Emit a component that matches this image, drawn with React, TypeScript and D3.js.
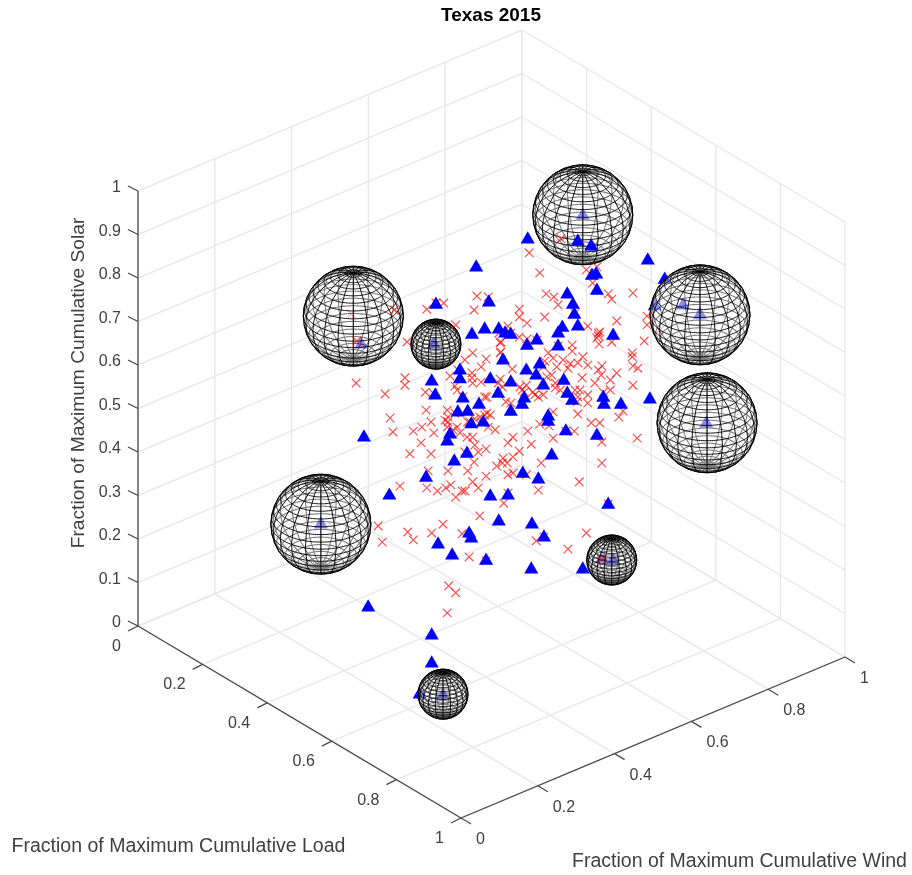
import React from "react";
import * as d3 from "d3";

// Chart text
const titleText = "Texas 2015";
const loadLabel = "Fraction of Maximum Cumulative Load";
const windLabel = "Fraction of Maximum Cumulative Wind";
const solarLabel = "Fraction of Maximum Cumulative Solar";

// Tick values
const floorTicks = [0, 0.2, 0.4, 0.6, 0.8, 1];
const solarTicks = [0, 0.1, 0.2, 0.3, 0.4, 0.5, 0.6, 0.7, 0.8, 0.9, 1];

// A single 3-D view hides the depth of each point, so marks are read as
// [position across the floor, left corner to right corner (0..1), height in solar-axis units].
const crossPoints = [
[.599,.886],[.554,.854],[.569,.808],[.635,.815],[.650,.822],[.644,.785],[.666,.760],[.671,.748],[.701,.762],[.578,.760],
[.589,.753],[.595,.735],[.480,.755],[.496,.753],[.476,.723],[.409,.725],[.433,.739],[.422,.739],[.450,.689],[.540,.725],
[.540,.707],[.576,.707],[.551,.693],[.619,.716],[.678,.698],[.637,.686],[.721,.709],[.721,.689],[.524,.686],[.511,.670],
[.528,.670],[.514,.650],[.540,.661],[.381,.650],[.652,.670],[.652,.664],[.654,.673],[.650,.659],[.653,.645],[.671,.650],
[.717,.652],[.565,.654],[.551,.657],[.595,.641],[.615,.643],[.615,.629],[.514,.627],[.474,.625],[.493,.611],[.463,.609],
[.486,.593],[.530,.588],[.581,.625],[.588,.613],[.576,.606],[.602,.609],[.612,.600],[.609,.590],[.574,.593],[.593,.593],
[.630,.616],[.623,.602],[.637,.597],[.657,.595],[.652,.586],[.656,.574],[.678,.579],[.669,.563],[.629,.568],[.647,.556],
[.700,.625],[.700,.616],[.701,.595],[.708,.590],[.701,.551],[.378,.568],[.378,.551],[.442,.572],[.473,.579],[.473,.568],
[.474,.556],[.486,.558],[.449,.549],[.513,.565],[.510,.556],[.516,.547],[.407,.535],[.418,.533],[.541,.547],[.547,.535],
[.562,.529],[.574,.529],[.591,.545],[.598,.540],[.619,.540],[.626,.540],[.623,.524],[.622,.513],[.637,.529],[.637,.510],
[.669,.540],[.659,.535],[.460,.524],[.494,.524],[.521,.513],[.528,.510],[.408,.494],[.438,.494],[.439,.478],[.439,.467],
[.415,.467],[.402,.455],[.390,.446],[.419,.442],[.438,.455],[.452,.455],[.467,.467],[.456,.442],[.477,.474],[.484,.478],
[.494,.487],[.487,.465],[.496,.455],[.506,.449],[.466,.432],[.474,.432],[.531,.432],[.552,.446],[.588,.490],[.588,.430],
[.623,.485],[.642,.465],[.654,.465],[.681,.478],[.687,.492],[.707,.430],[.357,.476],[.361,.444],[.449,.487],[.446,.449],
[.477,.414],[.401,.419],[.385,.394],[.415,.394],[.463,.398],[.482,.398],[.493,.405],[.476,.375],[.467,.355],[.439,.355],
[.411,.355],[.524,.419],[.557,.416],[.540,.400],[.531,.387],[.517,.384],[.516,.373],[.523,.373],[.508,.366],[.493,.343],
[.524,.346],[.531,.350],[.550,.346],[.571,.373],[.474,.330],[.443,.323],[.436,.316],[.424,.309],[.409,.316],[.371,.320],
[.482,.316],[.459,.309],[.463,.309],[.450,.295],[.524,.304],[.518,.281],[.567,.311],[.625,.330],[.657,.373],[.657,.421],
[.582,.458],[.569,.462],[.618,.446],[.606,.446],[.666,.279],[.484,.252],[.432,.233],[.340,.229],[.382,.215],[.390,.197],
[.346,.192],[.416,.213],[.459,.211],[.469,.158],[.493,.149],[.564,.195],[.575,.204],[.635,.213],[.609,.176],[.657,.153],
[.440,.092],[.450,.076],[.438,.030],[.309,.556],[.350,.531],[.363,.723],[.310,.652],[.453,.586],[.452,.540],[.513,.625],
[.513,.648],[.544,.540],[.550,.551],[.491,.524],[.435,.471],[.470,.467],[.491,.483],[.499,.483],[.586,.574],[.579,.570],
[.559,.535],[.567,.524],[.591,.556],
];

const trianglePoints = [
[.552,.888],[.623,.883],[.642,.872],[.722,.840],[.479,.824],[.643,.805],[.649,.808],[.650,.771],[.608,.762],[.616,.739],
[.618,.716],[.497,.744],[.422,.739],[.623,.689],[.601,.686],[.595,.673],[.673,.668],[.473,.670],[.491,.682],[.511,.682],
[.520,.673],[.528,.670],[.551,.645],[.565,.657],[.595,.643],[.517,.611],[.569,.602],[.550,.588],[.564,.577],[.574,.554],
[.603,.565],[.608,.535],[.615,.519],[.659,.526],[.660,.510],[.684,.510],[.725,.522],[.456,.588],[.456,.568],[.416,.563],
[.421,.531],[.499,.568],[.528,.561],[.510,.535],[.547,.524],[.544,.510],[.528,.494],[.581,.483],[.581,.471],[.606,.449],
[.650,.439],[.460,.524],[.483,.510],[.453,.492],[.467,.494],[.472,.465],[.489,.469],[.442,.442],[.438,.426],[.320,.435],
[.466,.398],[.448,.380],[.586,.394],[.408,.343],[.356,.302],[.545,.352],[.567,.339],[.499,.300],[.524,.302],[.666,.281],
[.511,.243],[.558,.236],[.469,.215],[.472,.204],[.575,.206],[.425,.190],[.445,.165],[.493,.153],[.557,.133],[.630,.133],
[.326,.046],[.416,-.018],[.416,-.082],
];

// Marks seen through a sphere's surface
const veiledTriangles = [
[.630,.943],[.316,.648],[.419,.648],[.259,.236],[.772,.737],[.796,.716],[.805,.467],[.657,.156],[.673,.153],[.399,-.153],
[.432,-.156],[.746,.796],[.732,.735],
];
const veiledCrosses = [[.302,.714],[.739,.677]];

// Spheres: position as above, and relative size
const sphereAcross = [.630, .305, .796, .806, .259, .422, .671, .432];
const sphereHeight = [.941, .709, .712, .465, .233, .645, .151, -.156];
const sphereSize = [2, 2, 2, 2, 2, 1, 1, 1];

const origin = { x: 138, y: 626 };
const loadVec = { x: 323, y: 192 };
const windVec = { x: 384, y: -161 };
const solarVec = { x: 0, y: -435 };

function project(load: number, wind: number, solar: number): [number, number] {
  return [
    origin.x + load * loadVec.x + wind * windVec.x + solar * solarVec.x,
    origin.y + load * loadVec.y + wind * windVec.y + solar * solarVec.y,
  ];
}

const across = d3.scaleLinear().domain([0, 1]).range([138, 844]);
const height = d3.scaleLinear().domain([0, 1]).range([626, 189]);
const radius = d3.scaleLinear().domain([0, 1]).range([0, 25]);

const triPath = d3.symbol().type(d3.symbolTriangle).size(86)()!;
const crossPath = d3.symbol().type(d3.symbolTimes).size(50)()!;
const graticule = d3.geoGraticule().extent([[-180, -90.01], [180, 90.01]]).step([18, 9])();
const lineFn = d3.line();

const gridColor = "#e8e8e8";
const axisColor = "#4a4a4a";
const textColor = "#404040";
const fontFamily = "'Liberation Sans', Arial, sans-serif";

function Grid() {
  const segs: [number, number][][] = [];
  floorTicks.forEach((t) => {
    segs.push([project(t, 0, 0), project(t, 1, 0)]);
    segs.push([project(0, t, 0), project(1, t, 0)]);
    segs.push([project(0, t, 0), project(0, t, 1)]);
    segs.push([project(t, 1, 0), project(t, 1, 1)]);
  });
  solarTicks.forEach((s) => {
    segs.push([project(0, 0, s), project(0, 1, s)]);
    segs.push([project(0, 1, s), project(1, 1, s)]);
  });
  return (
    <g fill="none" stroke={gridColor} strokeWidth={1.4}>
      {segs.map((s, i) => <path key={i} d={lineFn(s)!} />)}
    </g>
  );
}

function Axes() {
  const axisLines: [number, number][][] = [
    [project(0, 0, 0), project(0, 0, 1)],
    [project(0, 0, 0), project(1, 0, 0)],
    [project(1, 0, 0), project(1, 1, 0)],
  ];
  return (
    <g fontFamily={fontFamily} fontSize={16} fill={textColor}>
      <g fill="none" stroke={axisColor} strokeWidth={1.3}>
        {axisLines.map((s, i) => <path key={i} d={lineFn(s)!} />)}
        {solarTicks.map((s) => {
          const [x, y] = project(0, 0, s);
          return <path key={s} d={lineFn([[x, y], [x - 10, y - 5]])!} />;
        })}
        {floorTicks.map((t) => {
          const [x, y] = project(t, 0, 0);
          return <path key={t} d={lineFn([[x, y], [x - 10, y + 5]])!} />;
        })}
        {floorTicks.map((t) => {
          const [x, y] = project(1, t, 0);
          return <path key={t} d={lineFn([[x, y], [x + 10, y + 6]])!} />;
        })}
      </g>
      {solarTicks.map((s) => {
        const [x, y] = project(0, 0, s);
        return <text key={s} x={x - 17} y={y - 4.5} textAnchor="end" dominantBaseline="central">{s}</text>;
      })}
      {floorTicks.map((t) => {
        const [x, y] = project(t, 0, 0);
        return <text key={t} x={x - 17} y={y + 19.5} textAnchor="end" dominantBaseline="central">{t}</text>;
      })}
      {floorTicks.map((t) => {
        const [x, y] = project(1, t, 0);
        return <text key={t} x={x + 15} y={y + 20.5} textAnchor="start" dominantBaseline="central">{t}</text>;
      })}
    </g>
  );
}

function Marks({ tris, crosses }: { tris: number[][]; crosses: number[][] }) {
  return (
    <g>
      <g fill="none" stroke="#ff0000" strokeWidth={1.15} strokeOpacity={0.7}>
        {crosses.map(([a, h], i) => (
          <path key={i} d={crossPath} transform={`translate(${across(a)},${height(h)})`} />
        ))}
      </g>
      <g fill="#0000ff">
        {tris.map(([a, h], i) => (
          <path key={i} d={triPath} transform={`translate(${across(a)},${height(h) + 1.5})`} />
        ))}
      </g>
    </g>
  );
}

function Sphere({ cx, cy, r }: { cx: number; cy: number; r: number }) {
  const front = d3.geoOrthographic().scale(r).translate([cx, cy]).rotate([0, -30]).clipAngle(90);
  const back = d3.geoOrthographic().scale(r).translate([cx, cy]).rotate([180, 30]).clipAngle(90).reflectX(true);
  const backPath = d3.geoPath(back)(graticule)!;
  const frontPath = d3.geoPath(front)(graticule)!;
  return (
    <g fill="none">
      <circle cx={cx} cy={cy} r={r} fill="#fff" fillOpacity={0.55} />
      <path d={backPath} stroke="#000" strokeWidth={1.1} strokeOpacity={0.5} />
      <path d={frontPath} stroke="#000" strokeWidth={1} strokeOpacity={0.9} />
      <circle cx={cx} cy={cy} r={r} stroke="#000" strokeWidth={1} />
    </g>
  );
}

export default function App() {
  return (
    <svg
      width={912}
      height={875}
      viewBox="0 0 912 875"
      style={{ position: "absolute", left: 0, top: 0, background: "#fff", filter: "blur(0.35px)" }}
    >
      <Grid />
      <Axes />
      <Marks tris={veiledTriangles} crosses={veiledCrosses} />
      {sphereAcross.map((a, i) => (
        <Sphere key={i} cx={across(a)} cy={height(sphereHeight[i])} r={radius(sphereSize[i])} />
      ))}
      <Marks tris={trianglePoints} crosses={crossPoints} />
      <g fontFamily={fontFamily}>
        <text x={491} y={14} textAnchor="middle" dominantBaseline="central" fontSize={19} fontWeight="bold" fill="#000">{titleText}</text>
        <text x={178.5} y={845} textAnchor="middle" dominantBaseline="central" fontSize={19.5} fill={textColor}>{loadLabel}</text>
        <text x={739.5} y={860} textAnchor="middle" dominantBaseline="central" fontSize={19.5} fill={textColor}>{windLabel}</text>
        <text transform="translate(77,383) rotate(-90)" textAnchor="middle" dominantBaseline="central" fontSize={19.2} fill={textColor}>{solarLabel}</text>
      </g>
    </svg>
  );
}
